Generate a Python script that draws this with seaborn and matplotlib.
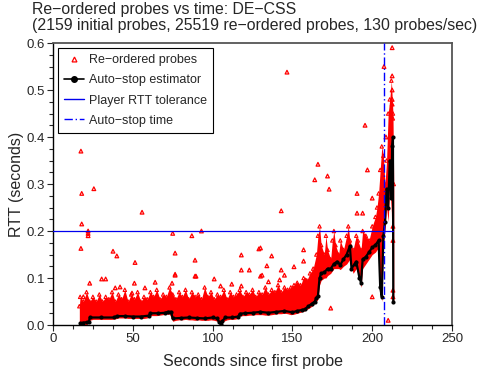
import matplotlib
matplotlib.use("Agg")
import matplotlib.pyplot as plt
import seaborn as sns
from matplotlib.lines import Line2D
from matplotlib.ticker import MultipleLocator

# dense band of re-ordered probes: time, lower and upper edge (seconds)
band_t = [16.5, 17, 19, 21, 23, 25, 27, 29, 31, 33,
          35, 37, 39, 41, 43, 45, 47, 49, 51, 53,
          55, 57, 59, 61, 63, 65, 67, 69, 71, 73,
          75, 77, 79, 81, 83, 85, 87, 89, 91, 93,
          95, 97, 99, 101, 103, 105, 107, 109, 111, 113,
          115, 117, 119, 121, 123, 125, 127, 129, 131, 133,
          135, 137, 139, 141, 143, 145, 147, 149, 151, 153,
          155, 157, 159, 161, 163, 165, 166, 167, 168, 170,
          171, 172, 174, 175, 176, 177, 179, 180, 182, 184,
          185, 186, 188, 190, 191, 193, 194, 196, 198, 200,
          202, 203, 204, 205, 206, 207, 208, 209, 210, 211,
          212, 213, 213.5]
band_hi = [0.04, 0.06, 0.05, 0.07, 0.05, 0.06, 0.05, 0.065, 0.05, 0.06,
           0.055, 0.07, 0.05, 0.065, 0.055, 0.075, 0.05, 0.065, 0.055, 0.07,
           0.05, 0.06, 0.055, 0.07, 0.06, 0.075, 0.055, 0.065, 0.06, 0.08,
           0.065, 0.055, 0.07, 0.06, 0.075, 0.055, 0.07, 0.06, 0.065, 0.055,
           0.08, 0.06, 0.07, 0.055, 0.065, 0.06, 0.075, 0.055, 0.07, 0.06,
           0.065, 0.075, 0.06, 0.07, 0.065, 0.075, 0.06, 0.07, 0.065, 0.08,
           0.065, 0.075, 0.07, 0.085, 0.07, 0.08, 0.075, 0.08, 0.085, 0.09,
           0.085, 0.10, 0.095, 0.11, 0.12, 0.15, 0.19, 0.21, 0.17, 0.15,
           0.19, 0.16, 0.14, 0.18, 0.20, 0.17, 0.15, 0.18, 0.16, 0.19,
           0.21, 0.18, 0.16, 0.19, 0.18, 0.16, 0.20, 0.19, 0.18, 0.21,
           0.23, 0.25, 0.28, 0.33, 0.38, 0.36, 0.30, 0.35, 0.45, 0.48,
           0.52, 0.45, 0.30]
band_lo = [0.0, 0.0, 0.0, 0.0, 0.01, 0.012, 0.012, 0.012, 0.012, 0.012,
           0.012, 0.012, 0.013, 0.015, 0.015, 0.015, 0.014, 0.014, 0.014, 0.014,
           0.014, 0.014, 0.015, 0.02, 0.02, 0.02, 0.021, 0.022, 0.023, 0.023,
           0.008, 0.01, 0.011, 0.011, 0.012, 0.011, 0.011, 0.01, 0.011, 0.01,
           0.01, 0.01, 0.011, 0.01, 0.008, 0.0, 0.008, 0.011, 0.012, 0.012,
           0.013, 0.019, 0.02, 0.02, 0.021, 0.021, 0.022, 0.022, 0.022, 0.021,
           0.021, 0.022, 0.023, 0.024, 0.024, 0.025, 0.024, 0.022, 0.023, 0.025,
           0.027, 0.029, 0.033, 0.037, 0.042, 0.05, 0.055, 0.085, 0.095, 0.1,
           0.1, 0.105, 0.11, 0.115, 0.12, 0.12, 0.12, 0.118, 0.125, 0.13,
           0.135, 0.14, 0.11, 0.12, 0.11, 0.08, 0.12, 0.13, 0.14, 0.15,
           0.155, 0.16, 0.165, 0.07, 0.05, 0.17, 0.2, 0.25, 0.22, 0.3,
           0.24, 0.06, 0.05]

# scattered re-ordered probes outside the dense band
out_t = [17.5, 18, 25.6, 18, 22, 22, 22, 17.5, 37.6, 40, 55.8, 51.4,
         75, 87, 93, 76.5, 89, 76.5, 89, 118, 118, 123, 130, 130,
         146.6, 143, 166, 164, 172, 173, 129, 137, 134, 143, 151, 157, 157, 174,
         195.5, 197, 190.5, 190.5, 194, 200, 200, 207.4, 212.5, 212.5, 212.5,
         212.5, 212.5, 213, 213, 213, 213, 210, 208.6, 212.8,
         23, 30.5, 33, 42, 51, 57.6, 64, 76.5, 74.6, 89.6, 19, 39, 49.5,
         101, 105, 112, 118, 131, 135, 145, 142, 153, 158]
out_v = [0.37, 0.28, 0.29, 0.215, 0.2, 0.195, 0.19, 0.163, 0.157, 0.147, 0.24, 0.133,
         0.195, 0.19, 0.2, 0.153, 0.138, 0.106, 0.104, 0.149, 0.117, 0.117, 0.164, 0.104,
         0.538, 0.243, 0.342, 0.309, 0.317, 0.289, 0.162, 0.147, 0.126, 0.117, 0.124, 0.16, 0.136, 0.036,
         0.425, 0.33, 0.28, 0.238, 0.238, 0.27, 0.06, 0.55, 0.59, 0.53, 0.50,
         0.48, 0.47, 0.21, 0.18, 0.074, 0.06, 0.01, 0.40, 0.44,
         0.089, 0.098, 0.098, 0.081, 0.089, 0.079, 0.091, 0.108, 0.089, 0.104, 0.06, 0.079, 0.068,
         0.098, 0.083, 0.087, 0.083, 0.106, 0.092, 0.106, 0.096, 0.085, 0.096]

# auto-stop estimator
est_t = [17, 19, 21, 22.5, 23, 30, 38, 40, 45, 50, 55, 60, 61, 66, 70, 72, 74, 75,
         80, 85, 90, 95, 100, 103, 104, 105, 106, 108, 112, 116, 117, 120, 125, 130,
         135, 140, 145, 150, 153, 156, 158, 160, 162, 164, 165, 166, 167, 168, 170,
         172, 174, 176, 178, 180, 182, 184, 186, 187, 189, 190, 192, 193, 194, 196,
         198, 200, 202, 204, 205, 206, 207, 208, 209, 210, 211, 212, 212.5, 213, 213.2]
est_v = [0.004, 0.005, 0.006, 0.006, 0.016, 0.016, 0.016, 0.019, 0.019, 0.018, 0.018, 0.020,
         0.025, 0.025, 0.026, 0.028, 0.028, 0.014,
         0.015, 0.016, 0.015, 0.014, 0.016, 0.014, 0.006, 0.003, 0.008, 0.016, 0.016, 0.018,
         0.024, 0.025, 0.026, 0.028,
         0.026, 0.028, 0.030, 0.027, 0.030, 0.032, 0.034, 0.040, 0.045, 0.050, 0.058, 0.062,
         0.10, 0.11, 0.112,
         0.12, 0.12, 0.13, 0.135, 0.128, 0.14, 0.15, 0.168, 0.12, 0.13, 0.135, 0.10, 0.09,
         0.14, 0.145,
         0.155, 0.165, 0.17, 0.18, 0.08, 0.06, 0.19, 0.22, 0.29, 0.25, 0.35, 0.27, 0.38,
         0.40, 0.05]

rtt_tolerance = 0.2
tolerance_end = 213
autostop_time = 207.5

sns.set_style("white")
plt.rcParams["font.family"] = ["Liberation Sans", "DejaVu Sans"]

fig = plt.figure(figsize=(4.8, 3.72), dpi=100)
ax = fig.add_axes([0.1104, 0.1263, 0.8313, 0.7581])

red = "#ff0000"
ax.fill_between(band_t, band_lo, band_hi, color=red, lw=0, zorder=1)
sns.scatterplot(x=band_t, y=band_hi, marker="^", s=6, facecolor="none",
                edgecolor=red, linewidth=0.8, ax=ax, zorder=2)
sns.scatterplot(x=out_t, y=out_v, marker="^", s=7, facecolor="none",
                edgecolor=red, linewidth=0.9, ax=ax, zorder=2)
sns.lineplot(x=est_t, y=est_v, color="black", marker="o", markersize=3,
             markeredgewidth=0, lw=1.6, estimator=None, sort=False, ax=ax, zorder=3)
ax.plot([0, tolerance_end], [rtt_tolerance, rtt_tolerance], color="#0000ee", lw=0.9, zorder=4)
ax.axvline(autostop_time, color="#0000ff", lw=1.0, ls=(0, (6, 2, 1, 2)), zorder=4)

ax.set_xlim(0, 250)
ax.set_ylim(0, 0.6)
ax.xaxis.set_major_locator(MultipleLocator(50))
ax.xaxis.set_minor_locator(MultipleLocator(12.5))
ax.yaxis.set_major_locator(MultipleLocator(0.1))
ax.yaxis.set_minor_locator(MultipleLocator(0.025))
ax.yaxis.set_major_formatter(matplotlib.ticker.FormatStrFormatter("%.1f"))
ax.tick_params(which="major", direction="out", length=4, width=0.8, labelsize=9.5,
               left=True, bottom=True, pad=1.5)
ax.tick_params(which="minor", direction="out", length=3, width=0.8, left=True, bottom=True)

for side in ["left", "bottom"]:
    ax.spines[side].set_color("black")
    ax.spines[side].set_linewidth(1.0)
for side in ["top", "right"]:
    ax.spines[side].set_color("#555555")
    ax.spines[side].set_linewidth(1.3)

ax.set_xlabel("Seconds since first probe", fontsize=11.5, labelpad=7)
ax.set_ylabel("RTT (seconds)", fontsize=11.5, labelpad=2)

fig.text(32 / 480, 1 - 2 / 372,
         "Re\u2212ordered probes vs time: DE\u2212CSS\n"
         "(2159 initial probes, 25519 re\u2212ordered probes, 130 probes/sec)",
         ha="left", va="top", fontsize=11.4, linespacing=1.05)

handles = [
    Line2D([], [], ls="none", marker="^", mfc="none", mec=red, ms=3.5, mew=0.9),
    Line2D([], [], color="black", marker="o", ms=4, lw=1.2),
    Line2D([], [], color="#0000ee", lw=1.0),
    Line2D([], [], color="#0000ff", lw=1.0, ls=(0, (6, 2, 1, 2))),
]
labels = ["Re\u2212ordered probes", "Auto\u2212stop estimator",
          "Player RTT tolerance", "Auto\u2212stop time"]
leg = ax.legend(handles, labels, loc="upper left", fontsize=9, frameon=True,
                fancybox=False, framealpha=1, edgecolor="black", handlelength=1.6,
                borderaxespad=0.4, labelspacing=0.65, handletextpad=0.35,
                borderpad=0.5)
leg.get_frame().set_linewidth(0.8)

fig.savefig("out.png", dpi=100)
